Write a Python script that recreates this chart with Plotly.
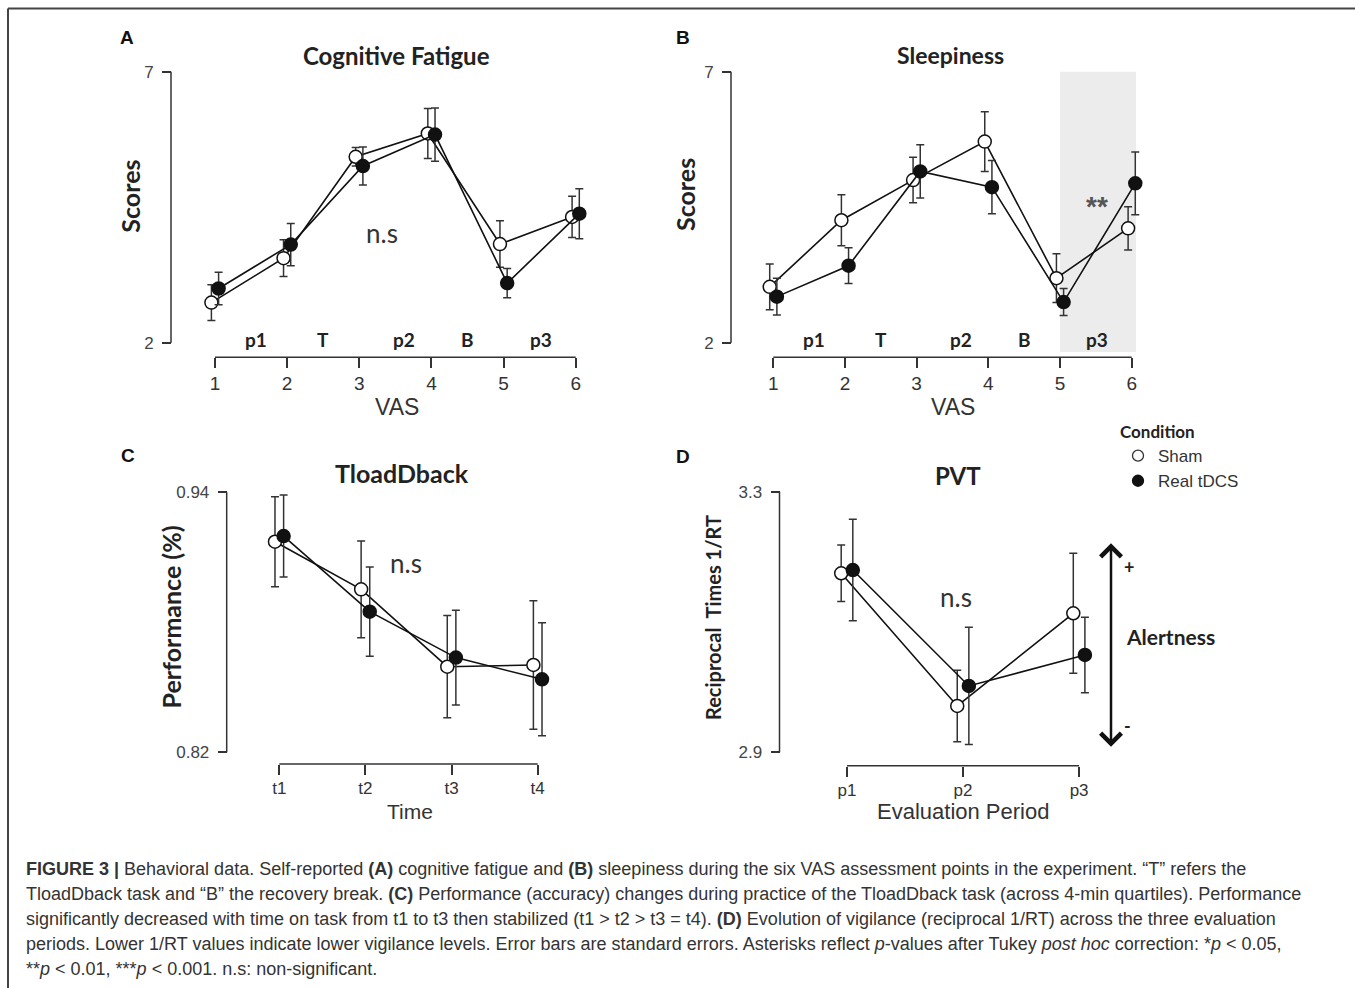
import plotly.graph_objects as go

W, H = 1355, 988

# ---------------- data ----------------
vas = [1, 2, 3, 4, 5, 6]
vas_periods = ["p1", "T", "p2", "B", "p3"]
vas_period_pos = [1.57, 2.5, 3.62, 4.5, 5.52]

fatigue_sham = [2.74, 3.56, 5.43, 5.86, 3.82, 4.32]
fatigue_sham_se = [0.33, 0.34, 0.17, 0.46, 0.43, 0.38]
fatigue_real = [3.00, 3.81, 5.26, 5.84, 3.10, 4.38]
fatigue_real_se = [0.30, 0.39, 0.35, 0.49, 0.27, 0.46]

sleep_sham = [3.03, 4.26, 5.00, 5.71, 3.19, 4.11]
sleep_sham_se = [0.42, 0.47, 0.42, 0.55, 0.45, 0.40]
sleep_real = [2.85, 3.42, 5.16, 4.87, 2.75, 4.94]
sleep_real_se = [0.34, 0.33, 0.49, 0.49, 0.25, 0.58]

time_labels = ["t1", "t2", "t3", "t4"]
tload_sham = [0.9172, 0.8952, 0.8595, 0.8603]
tload_sham_se = [0.0208, 0.0223, 0.0236, 0.0297]
tload_real = [0.9198, 0.8849, 0.8637, 0.8537]
tload_real_se = [0.0189, 0.0206, 0.0219, 0.0261]

period_labels = ["p1", "p2", "p3"]
pvt_sham = [3.1748, 2.9711, 3.1134]
pvt_sham_se = [0.0435, 0.055, 0.092]
pvt_real = [3.1798, 3.0018, 3.0494]
pvt_real_se = [0.078, 0.090, 0.058]

conditions = ["Sham", "Real tDCS"]

# ---------------- helpers ----------------
ARIAL = "Liberation Sans, Arial, sans-serif"
CALIBRI = "Lato, Carlito, sans-serif"
INK = "#111111"
AX = "#333333"


def px(x):
    return x / W


def py(y):
    return 1 - y / H


def dom_x(v0, p0, v1, p1, r0, r1):
    s = (p1 - p0) / (v1 - v0)
    return [px(p0 + (r0 - v0) * s), px(p0 + (r1 - v0) * s)]


def dom_y(v0, p0, v1, p1, r0, r1):
    s = (p1 - p0) / (v1 - v0)
    return [py(p0 + (r0 - v0) * s), py(p0 + (r1 - v0) * s)]


panels = {
    # name: (x map, x range, y map, y range, y-line px, x-line px)
    "A": ((1, 215.0, 6, 575.7), (0.7, 6.3), (2, 342.7, 7, 71.7), (1.7, 7.2), 171.0, 357.3),
    "B": ((1, 773.3, 6, 1131.7), (0.7, 6.3), (2, 342.7, 7, 71.7), (1.7, 7.2), 731.0, 357.3),
    "C": ((1, 279.3, 4, 537.7), (0.7, 4.3), (0.82, 752.3, 0.94, 492.3), (0.815, 0.945), 226.7, 764.0),
    "D": ((1, 847.0, 3, 1079.1), (0.7, 3.3), (2.9, 752.3, 3.3, 491.7), (2.88, 3.32), 779.5, 765.7),
}
axis_ids = {"A": "", "B": "2", "C": "3", "D": "4"}

x_ticks = {
    "A": (vas, [str(v) for v in vas]),
    "B": (vas, [str(v) for v in vas]),
    "C": ([1, 2, 3, 4], time_labels),
    "D": ([1, 2, 3], period_labels),
}
y_ticks = {
    "A": ([2, 7], ["2", "7"]),
    "B": ([2, 7], ["2", "7"]),
    "C": ([0.82, 0.94], ["0.82", "0.94"]),
    "D": ([2.9, 3.3], ["2.9", "3.3"]),
}

fig = go.Figure()
layout = dict(
    width=W, height=H, margin=dict(l=0, r=0, t=0, b=0),
    paper_bgcolor="white", plot_bgcolor="rgba(0,0,0,0)",
    showlegend=True,
)
shapes = []
annotations = []

for name, (xm, xr, ym, yr, yline, xline) in panels.items():
    sid = axis_ids[name]
    xd = dom_x(*xm, *xr)
    yd = dom_y(*ym, *yr)
    xt, xl = x_ticks[name]
    yt, yl = y_ticks[name]
    tick_size = 19 if name in ("A", "B") else 17
    layout["xaxis" + sid] = dict(
        domain=xd, range=list(xr), anchor="free", position=py(xline),
        showgrid=False, zeroline=False, showline=False,
        tickmode="array", tickvals=xt, ticktext=xl,
        ticks="outside", ticklen=10, tickwidth=1.5, tickcolor=AX,
        tickfont=dict(family=ARIAL, size=tick_size, color="#333333"),
        ticklabelstandoff=-1,
    )
    layout["yaxis" + sid] = dict(
        domain=yd, range=list(yr), anchor="free", position=px(yline),
        showgrid=False, zeroline=False, showline=False,
        tickmode="array", tickvals=yt, ticktext=yl,
        ticks="outside", ticklen=9, tickwidth=1.5, tickcolor=AX,
        tickfont=dict(family=ARIAL, size=17, color="#444444"),
        ticklabelstandoff=5,
    )
    xref = "x" + sid
    yref = "y" + sid
    # axis lines (R-style detached bracket)
    shapes.append(dict(type="line", xref="paper", yref=yref, x0=px(yline), x1=px(yline),
                       y0=yt[0], y1=yt[-1], line=dict(color=AX, width=1.5)))
    shapes.append(dict(type="line", xref=xref, yref="paper", x0=xt[0], x1=xt[-1],
                       y0=py(xline), y1=py(xline), line=dict(color=AX, width=1.5)))

# shaded p3 period in panel B
shapes.append(dict(type="rect", xref="x2", yref="y2", x0=5, x1=6.06, y0=1.83, y1=7,
                   fillcolor="#ececec", line=dict(width=0), layer="below"))

# ---------------- traces ----------------
DODGE = 0.05


def add_pair(sid, xs, sham, sham_se, real, real_se):
    xa = "x" + sid
    ya = "y" + sid
    err_kw = dict(type="data", color="#333333", thickness=1.5, width=4)
    fig.add_trace(go.Scatter(
        x=[v - DODGE for v in xs], y=sham, mode="lines+markers",
        error_y=dict(array=sham_se, **err_kw),
        line=dict(color=INK, width=1.6),
        marker=dict(symbol="circle", size=13, color="white", line=dict(color=INK, width=1.5)),
        xaxis=xa, yaxis=ya, showlegend=False, cliponaxis=False,
    ))
    fig.add_trace(go.Scatter(
        x=[v + DODGE for v in xs], y=real, mode="lines+markers",
        error_y=dict(array=real_se, **err_kw),
        line=dict(color=INK, width=1.6),
        marker=dict(symbol="circle", size=13, color=INK, line=dict(color=INK, width=1.5)),
        xaxis=xa, yaxis=ya, showlegend=False, cliponaxis=False,
    ))


add_pair("", vas, fatigue_sham, fatigue_sham_se, fatigue_real, fatigue_real_se)
add_pair("2", vas, sleep_sham, sleep_sham_se, sleep_real, sleep_real_se)
add_pair("3", [1, 2, 3, 4], tload_sham, tload_sham_se, tload_real, tload_real_se)
add_pair("4", [1, 2, 3], pvt_sham, pvt_sham_se, pvt_real, pvt_real_se)

# legend entries
fig.add_trace(go.Scatter(x=[None], y=[None], mode="markers", name=conditions[0],
                         marker=dict(symbol="circle", size=11, color="white",
                                     line=dict(color="#333333", width=1.3)),
                         xaxis="x4", yaxis="y4"))
fig.add_trace(go.Scatter(x=[None], y=[None], mode="markers", name=conditions[1],
                         marker=dict(symbol="circle", size=11, color=INK,
                                     line=dict(color=INK, width=1.3)),
                         xaxis="x4", yaxis="y4"))
layout["legend"] = dict(
    x=px(1118), y=py(416), xanchor="left", yanchor="top",
    bgcolor="rgba(0,0,0,0)", borderwidth=0,
    title=dict(text="Condition", font=dict(family=CALIBRI, size=17, color="#222222", weight="bold")),
    font=dict(family=ARIAL, size=17, color="#333333"),
    tracegroupgap=0, itemwidth=30,
)


# ---------------- text ----------------
def ann(x, y, text, size, family=ARIAL, bold=False, color="#222222", xanchor="center",
        yanchor="middle", angle=0, xref="paper", yref="paper"):
    annotations.append(dict(
        x=x, y=y, xref=xref, yref=yref, text=text, showarrow=False,
        xanchor=xanchor, yanchor=yanchor, textangle=angle,
        font=dict(family=family, size=size, color=color, weight="bold" if bold else "normal"),
    ))


# panel letters
for lbl, (x, y) in {"A": (127, 37), "B": (683, 37), "C": (128, 455), "D": (683, 456)}.items():
    ann(px(x), py(y), lbl, 19, ARIAL, True, "#111111")

# titles
ann(px(396.7), py(56), "Cognitive Fatigue", 24, CALIBRI, True)
ann(px(950), py(55), "Sleepiness", 23, CALIBRI, True)
ann(px(402.5), py(473.3), "TloadDback", 25, CALIBRI, True)
ann(px(958), py(475), "PVT", 24, CALIBRI, True)

# y titles
ann(px(130), py(196.7), "Scores", 25, CALIBRI, True, angle=-90)
ann(px(685), py(195), "Scores", 25, CALIBRI, True, angle=-90)
ann(px(170), py(617.5), "Performance (%)", 25, CALIBRI, True, angle=-90)
ann(px(712.5), py(617.5), "Reciprocal  Times 1/RT", 20, CALIBRI, True, angle=-90)

# x titles
ann(px(396.7), py(406.7), "VAS", 23, ARIAL, color="#333333")
ann(px(953.3), py(406.7), "VAS", 23, ARIAL, color="#333333")
ann(px(410), py(811.7), "Time", 21, ARIAL, color="#333333")
ann(px(963), py(811.7), "Evaluation Period", 22, ARIAL, color="#333333")

# period labels in A and B
for sid in ("", "2"):
    for lab, pos in zip(vas_periods, vas_period_pos):
        ann(pos, py(339.5), lab, 19, CALIBRI, True, xref="x" + sid)

# significance labels
ann(3.32, 4.02, "n.s", 26, CALIBRI, color="#333333", xref="x", yref="y")
ann(2.47, 0.9072, "n.s", 26, CALIBRI, color="#333333", xref="x3", yref="y3")
ann(1.935, 3.139, "n.s", 26, CALIBRI, color="#333333", xref="x4", yref="y4")
ann(5.51, 4.52, "**", 28, ARIAL, True, color="#555555", xref="x2", yref="y2")

# alertness arrow
annotations.append(dict(
    x=px(1111), y=py(543.3), xref="paper", yref="paper", ax=0, ay=205,
    text="", showarrow=True, arrowside="end+start", arrowhead=4, startarrowhead=4,
    arrowsize=1.6, startarrowsize=1.6, arrowwidth=2.5, arrowcolor=INK,
))
ann(px(1128.5), py(567), "+", 18, CALIBRI, True)
ann(px(1127.5), py(726), "-", 18, CALIBRI, True)
ann(px(1124), py(636.7), "Alertness", 21, CALIBRI, True, xanchor="left")

# caption
caption = [
    "<b>FIGURE 3 |</b> Behavioral data. Self-reported <b>(A)</b> cognitive fatigue and <b>(B)</b> sleepiness during the six VAS assessment points in the experiment. \u201cT\u201d refers the",
    "TloadDback task and \u201cB\u201d the recovery break. <b>(C)</b> Performance (accuracy) changes during practice of the TloadDback task (across 4-min quartiles). Performance",
    "significantly decreased with time on task from t1 to t3 then stabilized (t1 &gt; t2 &gt; t3 = t4). <b>(D)</b> Evolution of vigilance (reciprocal 1/RT) across the three evaluation",
    "periods. Lower 1/RT values indicate lower vigilance levels. Error bars are standard errors. Asterisks reflect <i>p</i>-values after Tukey <i>post hoc</i> correction: *<i>p</i> &lt; 0.05,",
    "**<i>p</i> &lt; 0.01, ***<i>p</i> &lt; 0.001. n.s: non-significant.",
]
for i, line in enumerate(caption):
    ann(px(24), py(869 + 25 * i), line, 18, ARIAL, color="#333333", xanchor="left")

# outer frame
shapes.append(dict(type="line", xref="paper", yref="paper", x0=px(8), x1=1, y0=py(8.5), y1=py(8.5),
                   line=dict(color="#444444", width=2)))
shapes.append(dict(type="line", xref="paper", yref="paper", x0=px(8), x1=px(8), y0=py(8.5), y1=0,
                   line=dict(color="#444444", width=2)))

layout["shapes"] = shapes
layout["annotations"] = annotations
fig.update_layout(**layout)
fig.write_html("out.html")
